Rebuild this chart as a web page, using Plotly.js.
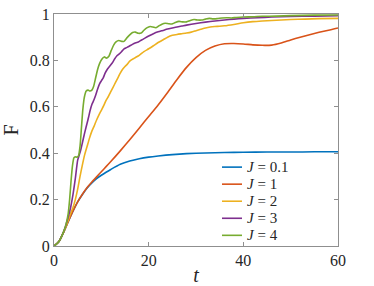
<!DOCTYPE html>
<html>
<head>
<meta charset="utf-8">
<script src="https://cdn.plot.ly/plotly-3.0.1.min.js"></script>
<style>html,body{margin:0;padding:0;background:#fff;}#chart{width:374px;height:286px;}</style>
</head>
<body>
<div id="chart"></div>
<script>
// ---- data ----
const seriesNames = ["<i>J</i> = 0.1", "<i>J</i> = 1", "<i>J</i> = 2", "<i>J</i> = 3", "<i>J</i> = 4"];

const tJ01 = [0,1,2,3,4,5,6,7,8,9,10,11,12,14,16,18,20,22,25,28,32,36,40,45,50,55,60];
const fJ01 = [0,0.018,0.058,0.105,0.15,0.19,0.222,0.25,0.272,0.29,0.305,0.318,0.33,0.352,0.366,0.376,0.383,0.388,0.394,0.398,0.401,0.403,0.404,0.405,0.405,0.406,0.406];

const tJ1 = [0,1,2,3,4,5,6,7,8,9,10,11,12,14,16,18,20,22,24,26,28,30,32,34,36,38,40,42,44,46,48,50,52,54,56,58,60];
const fJ1 = [0,0.018,0.058,0.105,0.15,0.19,0.223,0.252,0.276,0.298,0.32,0.342,0.364,0.41,0.458,0.508,0.558,0.608,0.662,0.718,0.77,0.812,0.843,0.862,0.872,0.873,0.871,0.867,0.865,0.866,0.875,0.888,0.9,0.911,0.921,0.93,0.94];

const tJ2 = [0,1,2,3,3.5,4,4.5,5,5.5,6,6.5,7,7.5,8,8.5,9,9.5,10,10.5,11,11.5,12,12.5,13,13.5,14,14.5,15,15.5,16,17,18,19,20,21,22,23,24,25,26,27,28,29,30,31,32,33,34,35,36,38,40,42,44,46,48,50,53,56,60];
const fJ2 = [0,0.018,0.058,0.11,0.14,0.165,0.2,0.245,0.3,0.35,0.395,0.43,0.465,0.495,0.518,0.543,0.565,0.585,0.605,0.628,0.645,0.665,0.685,0.705,0.725,0.745,0.762,0.774,0.784,0.797,0.81,0.822,0.838,0.85,0.863,0.877,0.888,0.9,0.908,0.912,0.915,0.918,0.922,0.928,0.934,0.94,0.944,0.946,0.947,0.949,0.955,0.962,0.967,0.97,0.972,0.974,0.976,0.978,0.98,0.981];

const tJ3 = [0,1,2,2.5,3,3.5,4,4.5,5,5.3,5.6,6,6.5,7,7.3,7.6,8,8.4,8.8,9.2,9.6,10,10.4,10.8,11.3,11.8,12.3,12.8,13.3,13.8,14.3,14.8,15.3,15.8,16.3,16.8,17.3,17.8,18.5,19.2,20,21,22,23,24,25,26,27,28,30,32,34,36,38,40,43,46,50,55,60];
const fJ3 = [0,0.018,0.06,0.09,0.125,0.165,0.22,0.29,0.37,0.39,0.41,0.445,0.49,0.53,0.555,0.582,0.61,0.628,0.65,0.676,0.698,0.712,0.725,0.745,0.763,0.776,0.789,0.806,0.82,0.828,0.838,0.85,0.855,0.86,0.866,0.872,0.876,0.879,0.888,0.896,0.905,0.915,0.923,0.929,0.935,0.94,0.944,0.948,0.952,0.959,0.965,0.97,0.974,0.978,0.981,0.984,0.987,0.989,0.991,0.993];

const tJ4 = [0,1,2,2.5,3,3.3,3.6,3.9,4.2,4.5,4.9,5.2,5.5,5.8,6.1,6.4,6.8,7.2,7.6,8.0,8.4,8.8,9.2,9.6,10.1,10.6,11.1,11.6,12.1,12.6,13.1,13.7,14.3,14.8,15.4,16.0,16.6,17.2,17.8,18.4,19.0,19.6,20.3,20.9,21.5,22.1,22.8,23.5,24.2,24.9,25.6,26.4,27.2,28.0,28.8,29.6,30.4,31.2,32.0,32.8,33.6,34.5,35.5,36.5,37.5,38.5,40,42,44,47,50,55,60];
const fJ4 = [0,0.018,0.06,0.09,0.14,0.2,0.28,0.345,0.38,0.385,0.383,0.39,0.43,0.51,0.59,0.64,0.668,0.672,0.668,0.672,0.69,0.725,0.76,0.785,0.805,0.815,0.81,0.818,0.843,0.866,0.88,0.886,0.882,0.882,0.897,0.91,0.92,0.922,0.917,0.918,0.93,0.94,0.946,0.944,0.941,0.948,0.956,0.96,0.958,0.957,0.963,0.968,0.966,0.966,0.972,0.976,0.974,0.974,0.978,0.981,0.979,0.98,0.983,0.984,0.983,0.985,0.987,0.988,0.99,0.991,0.993,0.995,0.996];

const xTicks = [0, 20, 40, 60];
const yTicks = [0, 0.2, 0.4, 0.6, 0.8, 1];
const yTickText = ["0", "0.2", "0.4", "0.6", "0.8", "1"];

// ---- styling ----
const colors = ["#0072BD", "#D95319", "#EDB120", "#7E2F8E", "#77AC30"];
const xs = [tJ01, tJ1, tJ2, tJ3, tJ4];
const ys = [fJ01, fJ1, fJ2, fJ3, fJ4];

const traces = xs.map((x, i) => ({
  x: x, y: ys[i], type: "scatter", mode: "lines", name: seriesNames[i], showlegend: false,
  line: {color: colors[i], width: 1.6, shape: "spline", smoothing: 0.6}
}));

const serif = "Liberation Serif, Times New Roman, serif";
const axisCol = "#8f8f8f";

// compact legend (MATLAB style: short swatch, tight rows)
const legX0 = 0.5915, legX1 = 0.662, legTextX = 0.6725, legTop = 0.34, legStep = 0.0735;
const legendShapes = seriesNames.map((n, i) => ({
  type: "line", xref: "paper", yref: "paper",
  x0: legX0, x1: legX1, y0: legTop - i * legStep, y1: legTop - i * legStep,
  line: {color: colors[i], width: 1.6}
}));
const legendNotes = seriesNames.map((n, i) => ({
  xref: "paper", yref: "paper", x: legTextX, y: legTop - i * legStep,
  xanchor: "left", yanchor: "middle", showarrow: false, text: n,
  font: {family: serif, size: 15, color: "#262626"}
}));

const common = {
  showgrid: false, zeroline: false, showline: true, linecolor: axisCol, linewidth: 1,
  mirror: "ticks", ticks: "inside", ticklen: 4, tickwidth: 1, tickcolor: axisCol,
  tickfont: {family: serif, size: 16, color: "#262626"}, fixedrange: true
};

const layout = {
  width: 374, height: 286,
  margin: {l: 54, r: 36, t: 14, b: 40},
  paper_bgcolor: "#ffffff", plot_bgcolor: "#ffffff",
  showlegend: false,
  shapes: legendShapes,
  annotations: legendNotes,
  xaxis: Object.assign({}, common, {range: [0, 60], tickmode: "array", tickvals: xTicks,
           title: {text: "<i>t</i>", font: {family: serif, size: 20, color: "#262626"}, standoff: 5}}),
  yaxis: Object.assign({}, common, {range: [0, 1], tickmode: "array", tickvals: yTicks, ticktext: yTickText,
           title: {text: "F", font: {family: serif, size: 20, color: "#262626"}, standoff: 8}})
};

Plotly.newPlot("chart", traces, layout, {staticPlot: true, displayModeBar: false});
</script>
</body>
</html>
